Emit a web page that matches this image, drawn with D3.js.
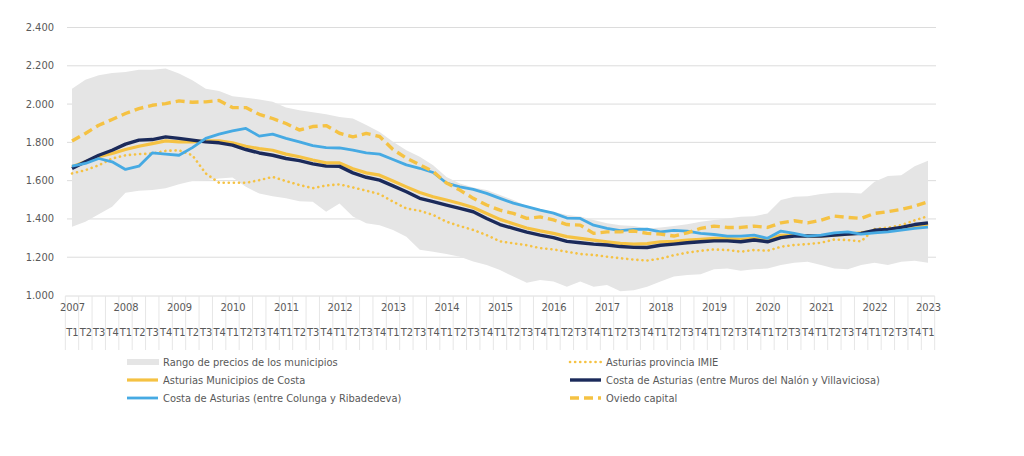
<!DOCTYPE html>
<html>
<head>
<meta charset="utf-8">
<script src="https://cdn.jsdelivr.net/npm/d3@7"></script>
<style>
  html, body { margin: 0; padding: 0; background: #ffffff; }
  svg { display: block; }
  text { font-family: "DejaVu Sans Condensed", "Liberation Sans Narrow", sans-serif; fill: #595959; }
</style>
</head>
<body>
<svg id="chart" width="1024" height="456"></svg>
<script>
// ---------- DATA ----------
const years = ["2007","2008","2009","2010","2011","2012","2013","2014","2015","2016","2017","2018","2019","2020","2021","2022","2023"];
const quarterLabels = ["T1","T2","T3","T4"];
const categories = [];
years.forEach(y => quarterLabels.forEach(q => { if (!(y === "2023" && q !== "T1")) categories.push(y + q); }));

const yTicks = [1000, 1200, 1400, 1600, 1800, 2000, 2200, 2400];

const rangeUpper = [2078,2125,2148,2160,2165,2177,2177,2183,2157,2122,2078,2066,2038,2031,2021,2009,1980,
  1965,1955,1944,1930,1922,1888,1852,1800,1756,1722,1678,1617,1583,1562,1548,1522,
  1496,1465,1445,1435,1418,1410,1392,1375,1365,1360,
  1348,1352,1360,1370,1383,1392,1400,1409,1412,1426,1496,1513,1516,1527,1534,1534,1530,1591,1621,1626,1673,1701];
const rangeLower = [1356,1382,1422,1461,1534,1544,1548,1557,1579,1596,1600,1609,1614,1565,1530,1516,1505,
  1490,1487,1435,1478,1410,1375,1365,1340,1304,1236,1226,1214,1200,1175,1157,1130,
  1096,1064,1078,1070,1043,1070,1043,1052,1020,1025,
  1043,1070,1096,1104,1109,1134,1139,1127,1134,1139,1157,1169,1174,1157,1139,1134,1157,1169,1157,1174,1179,1169];
const provinciaIMIE = [1635,1652,1678,1713,1730,1736,1739,1753,1756,1730,1635,1586,1586,1586,1600,1617,1595,
  1575,1558,1572,1578,1562,1545,1527,1488,1452,1440,1418,1383,1360,1340,1313,1280,
  1270,1260,1245,1238,1226,1214,1209,1200,1192,1185,
  1180,1190,1208,1221,1231,1238,1235,1226,1235,1231,1252,1261,1266,1273,1290,1287,1280,1345,1352,1365,1390,1412];
const municipiosCosta = [1670,1696,1722,1739,1760,1777,1791,1805,1800,1800,1805,1805,1795,1777,1765,1756,1736,
  1722,1705,1690,1690,1660,1638,1626,1596,1565,1535,1513,1496,1478,1457,1426,1395,
  1372,1350,1335,1322,1305,1296,1287,1278,1270,1266,
  1268,1278,1280,1287,1291,1296,1296,1291,1296,1291,1312,1313,1308,1308,1313,1318,1325,1334,1339,1348,1360,1370];
const costaMuros = [1661,1696,1730,1756,1788,1809,1812,1826,1818,1809,1800,1795,1783,1760,1742,1730,1713,
  1702,1685,1673,1672,1638,1615,1600,1570,1539,1505,1488,1470,1452,1435,1400,1368,
  1348,1328,1313,1300,1280,1273,1266,1261,1253,1249,
  1248,1260,1266,1273,1278,1283,1283,1278,1287,1278,1300,1308,1308,1308,1313,1318,1322,1338,1343,1353,1368,1377];
const costaColunga = [1673,1687,1713,1696,1656,1673,1742,1736,1730,1770,1818,1840,1857,1870,1830,1840,1818,
  1800,1780,1770,1768,1757,1742,1736,1708,1680,1662,1640,1585,1565,1552,1531,1505,
  1480,1462,1443,1428,1402,1400,1365,1348,1336,1343,
  1344,1330,1338,1334,1322,1316,1308,1308,1313,1296,1334,1322,1308,1313,1325,1330,1318,1325,1330,1339,1348,1355];
const oviedoCapital = [1805,1844,1887,1917,1948,1974,1991,2000,2014,2007,2009,2016,1979,1979,1944,1922,1896,
  1862,1880,1885,1845,1826,1844,1828,1760,1715,1680,1645,1585,1548,1505,1470,1443,1426,
  1400,1408,1392,1368,1365,1322,1330,1330,1334,
  1322,1318,1308,1325,1348,1360,1353,1353,1360,1353,1377,1388,1377,1391,1412,1405,1400,1426,1435,1447,1464,1487];

const legendLabels = [
  "Rango de precios de los municipios",
  "Asturias provincia IMIE",
  "Asturias Municipios de Costa",
  "Costa de Asturias (entre Muros del Nalón y Villaviciosa)",
  "Costa de Asturias (entre Colunga y Ribadedeva)",
  "Oviedo capital"
];

// ---------- STYLES ----------
const cYellow = "#f5c243", cNavy = "#1b2a5a", cBlue = "#46aae3", cBand = "#e5e5e5", cGrid = "#dcdcdc";
const lineSeries = [
  { values: provinciaIMIE,   color: cYellow, width: 2.6, dash: "0.1,5", cap: "round" },
  { values: municipiosCosta, color: cYellow, width: 3.2, dash: null,   cap: "butt" },
  { values: costaMuros,      color: cNavy,   width: 3.4, dash: null,   cap: "butt" },
  { values: costaColunga,    color: cBlue,   width: 2.8, dash: null,   cap: "butt" },
  { values: oviedoCapital,   color: cYellow, width: 3.4, dash: "9,5",  cap: "butt" }
];

// ---------- CHART ----------
const svg = d3.select("#chart");
const fmt = d3.formatLocale({ decimal: ",", thousands: ".", grouping: [3], currency: ["", "€"] }).format(",.0f");

const x = d3.scalePoint().domain(categories).range([72, 928]);
const y = d3.scaleLinear().domain([1000, 2400]).range([295, 27]);
const step = x.step();

// gridlines + y labels
const yAxis = d3.axisLeft(y).tickValues(yTicks).tickFormat(fmt).tickSize(-(936 - 67)).tickPadding(13);
const gy = svg.append("g").attr("transform", "translate(67,0)").call(yAxis);
gy.select(".domain").remove();
gy.selectAll(".tick line").attr("stroke", cGrid).attr("stroke-width", 1)
  .filter(d => d === 1000).remove();
gy.selectAll(".tick text").style("font-size", "11px").attr("fill", "#595959");

// band
const area = d3.area()
  .x((d, i) => x(categories[i]))
  .y0((d, i) => y(rangeLower[i]))
  .y1((d, i) => y(rangeUpper[i]))
  .curve(d3.curveLinear);
svg.append("path").datum(rangeUpper).attr("d", area).attr("fill", cBand);

// x axis baseline
svg.append("line").attr("x1", x(categories[0]) - step / 2).attr("x2", x(categories[categories.length - 1]) + step / 2)
  .attr("y1", 296).attr("y2", 296).attr("stroke", cGrid).attr("stroke-width", 1);

// tick separators between categories
const sepPositions = categories.map(c => x(c) - step / 2).concat([x(categories[categories.length - 1]) + step / 2]);
svg.append("g").selectAll("line").data(sepPositions).join("line")
  .attr("x1", d => d).attr("x2", d => d).attr("y1", 296).attr("y2", 350)
  .attr("stroke", "#e6e6e6").attr("stroke-width", 1);

// year labels
const yearAxis = d3.axisBottom(x).tickValues(categories.filter(c => c.endsWith("T1")))
  .tickFormat(c => c.slice(0, 4)).tickSize(0).tickPadding(7);
const gYear = svg.append("g").attr("transform", "translate(0,296)").call(yearAxis);
gYear.select(".domain").remove();
gYear.selectAll("text").style("font-size", "11px").attr("fill", "#595959");

// quarter labels
const qAxis = d3.axisBottom(x).tickFormat(c => c.slice(4)).tickSize(0).tickPadding(32);
const gQ = svg.append("g").attr("transform", "translate(0,296)").call(qAxis);
gQ.select(".domain").remove();
gQ.selectAll("text").style("font-size", "11px").attr("fill", "#595959");

// lines
const line = d3.line().x((d, i) => x(categories[i])).y(d => y(d)).curve(d3.curveLinear);
lineSeries.forEach(s => {
  svg.append("path").datum(s.values).attr("d", line)
    .attr("fill", "none").attr("stroke", s.color).attr("stroke-width", s.width)
    .attr("stroke-linejoin", "round").attr("stroke-linecap", s.cap)
    .attr("stroke-dasharray", s.dash);
});

// legend
const legendCols = [127, 570];
const legendRows = [362, 380, 398];
const legendSwatches = [
  { type: "band" },
  lineSeries[0], lineSeries[1], lineSeries[2], lineSeries[3], lineSeries[4]
];
const lg = svg.append("g");
legendLabels.forEach((label, i) => {
  const cx = legendCols[i % 2], cy = legendRows[Math.floor(i / 2)];
  const sw = legendSwatches[i];
  if (sw.type === "band") {
    lg.append("rect").attr("x", cx).attr("y", cy - 3).attr("width", 32).attr("height", 6).attr("fill", cBand);
  } else {
    lg.append("line").attr("x1", cx).attr("x2", cx + 31).attr("y1", cy).attr("y2", cy)
      .attr("stroke", sw.color).attr("stroke-width", sw.width)
      .attr("stroke-dasharray", sw.dash).attr("stroke-linecap", sw.cap);
  }
  lg.append("text").attr("x", cx + 36).attr("y", cy).attr("dy", "0.35em")
    .style("font-size", "11px").attr("fill", "#4d4d4d").text(label);
});
</script>
</body>
</html>
